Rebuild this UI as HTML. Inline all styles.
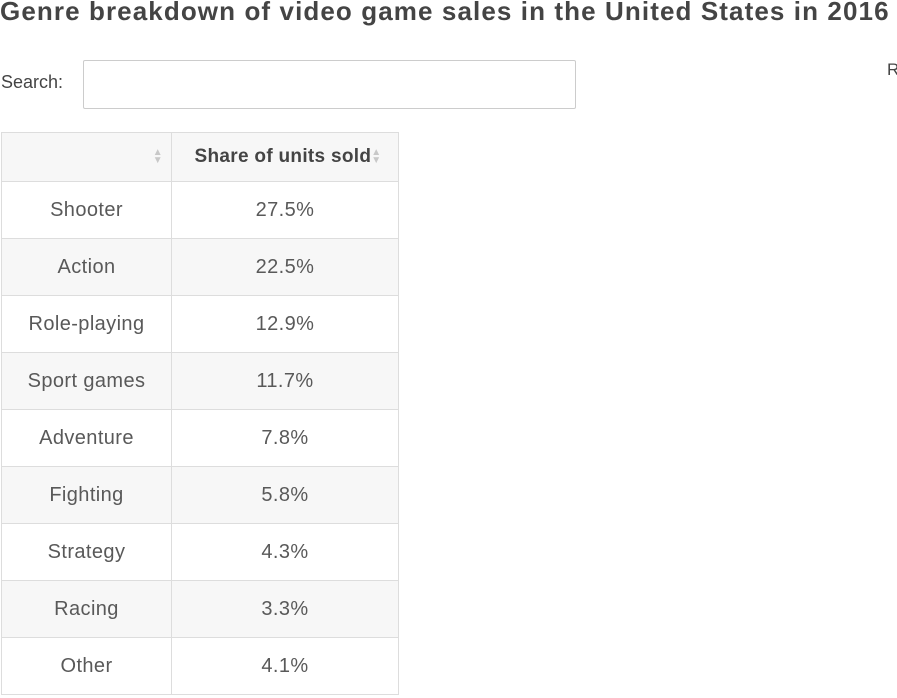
<!DOCTYPE html>
<html><head><meta charset="utf-8"><style>
body{margin:0;width:897px;height:698px;overflow:hidden;background:#fff;font-family:"Liberation Sans",sans-serif;color:#555;position:relative}
#title{position:absolute;left:0;top:-4px;font-size:26px;letter-spacing:1.1px;font-weight:bold;color:#444;white-space:nowrap;margin:0}
#search-label{position:absolute;left:1px;top:72px;font-size:18px;color:#444}
#search{position:absolute;left:83px;top:60px;width:491px;height:47px;border:1px solid #ccc;border-radius:2px;box-sizing:content-box;padding:0;margin:0}
#cut{position:absolute;left:887px;top:60px;font-size:17px;color:#444}
table{position:absolute;left:1px;top:132px;border-collapse:collapse;font-size:20px;letter-spacing:0.4px}
td,th{border:1px solid #ddd;text-align:center;padding:0}
th{height:49px;background:#f7f7f7;font-weight:bold;color:#444;font-size:19px;letter-spacing:0.3px}
td{height:56px;color:#595959}
tr.alt td{background:#f7f7f7}
.sort{display:inline-block;color:#c8c8c8;font-size:10px;line-height:8px;vertical-align:middle}
</style></head><body>
<h1 id="title">Genre breakdown of video game sales in the United States in 2016</h1>
<div id="search-label">Search:</div>
<input id="search">
<div id="cut">R</div>
<table>
<thead><tr>
<th style="width:170px;text-align:right;padding-right:8px;box-sizing:border-box"><span class="sort">▲<br>▼</span></th>
<th style="width:227px;padding-left:6px;box-sizing:border-box">Share of units sold<span class="sort">▲<br>▼</span></th>
</tr></thead>
<tbody id="tb"></tbody>
</table>
<script>
const genres=["Shooter","Action","Role-playing","Sport games","Adventure","Fighting","Strategy","Racing","Other"];
const shares=[27.5,22.5,12.9,11.7,7.8,5.8,4.3,3.3,4.1];
const tb=document.getElementById('tb');
genres.forEach((g,i)=>{
const tr=document.createElement('tr');


if(i%2)tr.className='alt';
const a=document.createElement('td');a.textContent=g;


const b=document.createElement('td');b.textContent=shares[i].toFixed(1)+'%';


tr.appendChild(a);tr.appendChild(b);tb.appendChild(tr);
});
</script>
</body></html>
